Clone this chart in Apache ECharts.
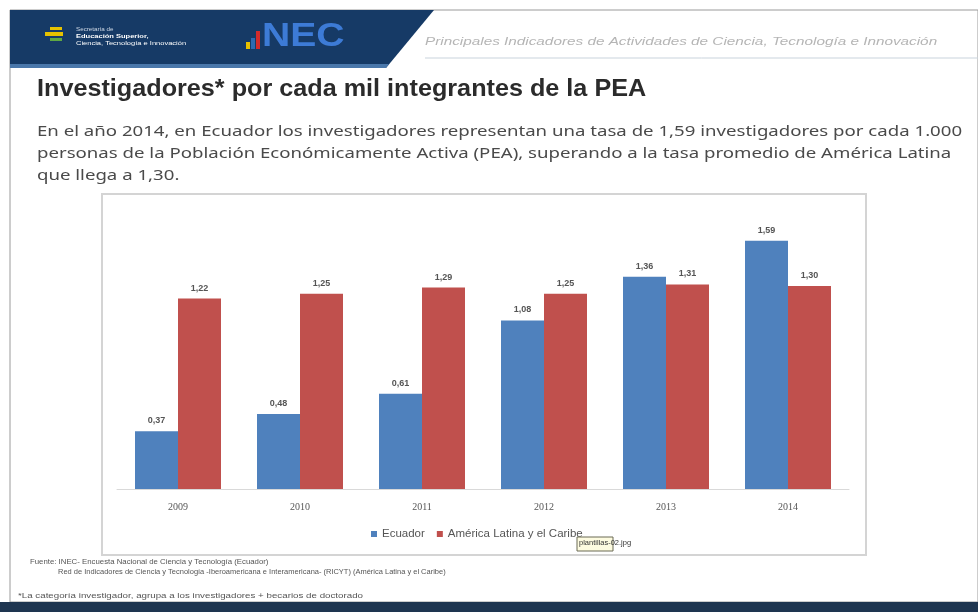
<!DOCTYPE html>
<html>
<head>
<meta charset="utf-8">
<script src="https://cdn.jsdelivr.net/npm/echarts@6/dist/echarts.min.js"></script>
<style>
html, body { margin: 0; padding: 0; background: #fff; }
#chart { width: 978px; height: 612px; }
</style>
</head>
<body>
<div id="chart"></div>
<script>
var years = ['2009', '2010', '2011', '2012', '2013', '2014'];
var ecuador = [0.37, 0.48, 0.61, 1.08, 1.36, 1.59];
var latam = [1.22, 1.25, 1.29, 1.25, 1.31, 1.30];
var seriesNames = ['Ecuador', 'América Latina y el Caribe'];

var blue = '#4f81bd';
var red = '#c0504d';

var chart = echarts.init(document.getElementById('chart'));

function fmt(p) {
    return p.value.toFixed(2).replace('.', ',');
}

var option = {
    backgroundColor: '#fff',
    animation: false,
    grid: {
        left: 117,
        right: 129,
        top: 208,
        bottom: 123
    },
    legend: {
        data: seriesNames,
        bottom: 67,
        left: 366,
        itemWidth: 6,
        itemHeight: 6,
        itemGap: 12,
        icon: 'rect',
        textStyle: { fontSize: 11.5, color: '#555', fontFamily: 'Liberation Sans' }
    },
    xAxis: {
        type: 'category',
        data: years,
        axisTick: { show: false },
        axisLine: { lineStyle: { color: '#d9d9d9', width: 1 } },
        axisLabel: { color: '#555', fontSize: 10, margin: 13, fontFamily: 'Liberation Serif' }
    },
    yAxis: {
        type: 'value',
        min: 0,
        max: 1.8,
        show: false,
        splitLine: { show: false }
    },
    series: [
        {
            name: seriesNames[0],
            type: 'bar',
            data: ecuador,
            barWidth: 43,
            barGap: '0%',
            itemStyle: { color: blue },
            label: {
                show: true, position: 'top', distance: 6, formatter: fmt,
                fontSize: 9, fontWeight: 'bold', color: '#555', fontFamily: 'Liberation Sans'
            }
        },
        {
            name: seriesNames[1],
            type: 'bar',
            data: latam,
            barWidth: 43,
            barGap: '0%',
            itemStyle: { color: red },
            label: {
                show: true, position: 'top', distance: 6, formatter: fmt,
                fontSize: 9, fontWeight: 'bold', color: '#555', fontFamily: 'Liberation Sans'
            }
        }
    ],
    graphic: [
        // slide frame
        { type: 'rect', z: -10, shape: { x: 10, y: 10, width: 968, height: 592 },
          style: { fill: '#fff', stroke: '#9a9a9a', lineWidth: 1 } },
        // header band
        { type: 'polygon', z: -5, shape: { points: [[10, 10], [434, 10], [386, 68], [10, 68]] },
          style: { fill: '#163a66' } },
        { type: 'polygon', z: -4, shape: { points: [[10, 64], [389, 64], [386, 68], [10, 68]] },
          style: { fill: '#4a77aa' } },
        { type: 'line', z: -4, shape: { x1: 425, y1: 58, x2: 978, y2: 58 },
          style: { stroke: '#c9d3dc', lineWidth: 1 } },
        // logo 1
        { type: 'rect', z: 1, shape: { x: 50, y: 27, width: 12, height: 3 }, style: { fill: '#e6c200' } },
        { type: 'rect', z: 1, shape: { x: 45, y: 32, width: 18, height: 4 }, style: { fill: '#e6c200' } },
        { type: 'rect', z: 1, shape: { x: 50, y: 38, width: 12, height: 3 }, style: { fill: '#5fa843' } },
        { type: 'text', z: 1, x: 76, y: 27, scaleX: 1.25,
          style: { text: 'Secretaría de', fontSize: 5, fill: '#cfd9e6', fontFamily: 'Liberation Sans' } },
        { type: 'text', z: 1, x: 76, y: 33, scaleX: 1.25,
          style: { text: 'Educación Superior,', fontSize: 6, fill: '#ffffff', fontWeight: 'bold', fontFamily: 'Liberation Sans' } },
        { type: 'text', z: 1, x: 76, y: 40, scaleX: 1.25,
          style: { text: 'Ciencia, Tecnología e Innovación', fontSize: 6, fill: '#ffffff', fontFamily: 'Liberation Sans' } },
        // logo INEC
        { type: 'rect', z: 1, shape: { x: 246, y: 42, width: 4, height: 7 }, style: { fill: '#e8c000' } },
        { type: 'rect', z: 1, shape: { x: 251, y: 38, width: 4, height: 11 }, style: { fill: '#2e6ab1' } },
        { type: 'rect', z: 1, shape: { x: 256, y: 31, width: 4, height: 18 }, style: { fill: '#d32b2b' } },
        { type: 'text', z: 1, x: 262, y: 20, scaleX: 1.15,
          style: { text: 'NEC', fontSize: 34, fill: '#3d7bd6', fontFamily: 'Liberation Sans', fontWeight: 'bold' } },
        { type: 'text', z: 1, x: 425, y: 36, scaleX: 1.33,
          style: { text: 'Principales Indicadores de Actividades de Ciencia, Tecnología e Innovación',
          fontSize: 11.5, fill: '#b5b5b5', fontStyle: 'italic', fontFamily: 'Liberation Sans' } },
        // title and body
        { type: 'text', x: 37, y: 77, scaleX: 1.05,
          style: { text: 'Investigadores* por cada mil integrantes de la PEA',
          fontSize: 24, fontWeight: 'bold', fill: '#2b2b2b', fontFamily: 'Liberation Sans' } },
        { type: 'text', x: 37, y: 121, scaleX: 1.33,
          style: { lineHeight: 22,
          text: 'En el año 2014, en Ecuador los investigadores representan una tasa de 1,59 investigadores por cada 1.000\npersonas de la Población Económicamente Activa (PEA), superando a la tasa promedio de América Latina\nque llega a 1,30.',
          fontSize: 14, fill: '#4a4a4a', fontFamily: 'Noto Sans' } },
        // chart box
        { type: 'rect', z: -3, shape: { x: 102, y: 194, width: 764, height: 361 },
          style: { fill: '#fff', stroke: '#d4d4d4', lineWidth: 2 } },
        // tooltip overlay
        { type: 'rect', z: 20, shape: { x: 577, y: 537, width: 36, height: 14 },
          style: { fill: '#fdfbe0', stroke: '#6b6b55', lineWidth: 1 } },
        { type: 'text', z: 21, style: { x: 579, y: 539, text: 'plantillas-02.jpg', fontSize: 7.5, fill: '#333', fontFamily: 'Liberation Sans' } },
        // footnotes
        { type: 'text', x: 30, y: 559, scaleX: 1.2,
          style: { text: 'Fuente: INEC- Encuesta Nacional de Ciencia y Tecnología (Ecuador)',
          fontSize: 6.5, fill: '#555', fontFamily: 'Liberation Sans' } },
        { type: 'text', x: 58, y: 569, scaleX: 1.15,
          style: { text: 'Red de Indicadores de Ciencia y Tecnología -Iberoamericana e Interamericana- (RICYT) (América Latina y el Caribe)',
          fontSize: 6.5, fill: '#555', fontFamily: 'Liberation Sans' } },
        { type: 'text', x: 18, y: 592, scaleX: 1.3,
          style: { text: '*La categoría investigador, agrupa a los investigadores + becarios de doctorado',
          fontSize: 7.5, fill: '#555', fontFamily: 'Liberation Sans' } },
        // bottom band
        { type: 'rect', z: 5, shape: { x: 0, y: 602, width: 978, height: 10 }, style: { fill: '#1e3550' } }
    ]
};

chart.setOption(option);
</script>
</body>
</html>
